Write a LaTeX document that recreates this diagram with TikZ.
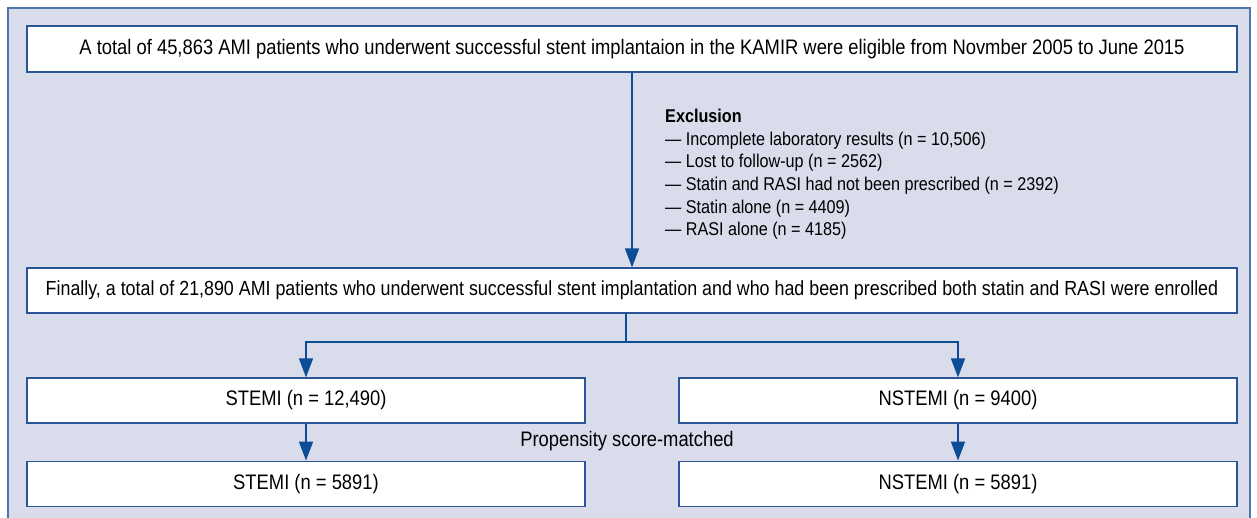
\documentclass[tikz,border=0pt]{standalone}
\usepackage{fontspec}
\setmainfont{Liberation Sans}[FakeStretch=0.875]
\usetikzlibrary{arrows.meta,positioning}

\definecolor{panelfill}{HTML}{D9DDEB}
\definecolor{panelline}{HTML}{4F75AC}
\definecolor{boxline}{HTML}{2B5597}
\definecolor{flowline}{HTML}{0D4C96}

\tikzset{
    stage/.style={draw=boxline, fill=white, line width=1.2pt, minimum height=45pt,
        inner sep=0pt, font=\fontsize{21}{24}\selectfont},
    widebox/.style={stage, minimum width=1210pt},
    halfbox/.style={stage, minimum width=558pt},
    flow/.style={draw=flowline, line width=1.5pt, -{Triangle[length=19pt,width=14pt]}},
}

\begin{document}
\begin{tikzpicture}[x=1pt,y=-1pt]
\useasboundingbox (0,0) rectangle (1257,518);
\fill[panelfill] (8,8) rectangle (1250,518);
\draw[panelline, line width=1.2pt] (8,518) -- (8,8) -- (1250,8) -- (1250,518);

\node[widebox, minimum height=46pt] (total) at (632,49)
    {A total of 45,863 AMI patients who underwent successful stent implantaion in the KAMIR were eligible from Novmber 2005 to June 2015};
\node[widebox, font=\fontsize{20.4}{24}\selectfont] (final) at (632,290.5)
    {Finally, a total of 21,890 AMI patients who underwent successful stent implantation and who had been prescribed both statin and RASI were enrolled};

\node[halfbox] (stemi) at (306,400.5) {STEMI (n = 12,490)};
\node[halfbox] (nstemi) at (958,400.5) {NSTEMI (n = 9400)};
\node[halfbox, below=37pt of stemi] (stemim) {STEMI (n = 5891)};
\node[halfbox, below=37pt of nstemi] (nstemim) {NSTEMI (n = 5891)};

\node[anchor=north west, align=left, inner sep=0pt,
    font=\fontsize{18.5}{22.6}\selectfont] (excl) at (665,109)
    {\textbf{Exclusion}\\
    — Incomplete laboratory results (n = 10,506)\\
    — Lost to follow-up (n = 2562)\\
    — Statin and RASI had not been prescribed (n = 2392)\\
    — Statin alone (n = 4409)\\
    — RASI alone (n = 4185)};

\node[font=\fontsize{21}{24}\selectfont, inner sep=0pt] (psm) at (627,441) {Propensity score-matched};

\coordinate (split) at (626,342);

\draw[flow] (total) -- (final);
\draw[flowline, line width=1.5pt] (final.south -| split) -- (split);
\draw[flow] (split) -| (stemi);
\draw[flow] (split) -| (nstemi);
\draw[flow] (stemi) -- (stemim);
\draw[flow] (nstemi) -- (nstemim);

\end{tikzpicture}
\end{document}
